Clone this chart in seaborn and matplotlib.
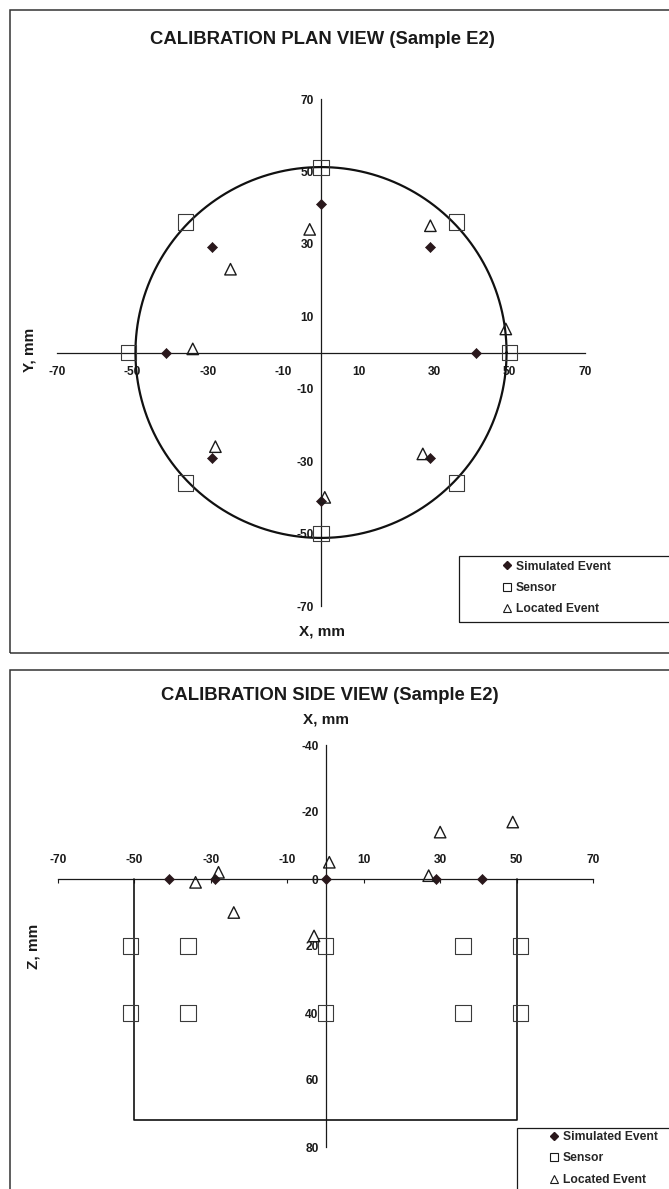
import numpy as np
import matplotlib
matplotlib.use("Agg")
import matplotlib.pyplot as plt
import seaborn as sns
from matplotlib.lines import Line2D
from matplotlib.patches import Rectangle

# ---- Plan view (X, Y in mm) ----
plan_sim_x = [0, 29, 41, 29, 0, -29, -41, -29]
plan_sim_y = [41, 29, 0, -29, -41, -29, 0, 29]
plan_sensor_x = [0, 36, 50, 36, 0, -36, -51, -36]
plan_sensor_y = [51, 36, 0, -36, -50, -36, 0, 36]
plan_loc_x = [-3, 29, 49, 27, 1, -28, -34, -24]
plan_loc_y = [34, 35, 6.5, -28, -40, -26, 1, 23]

# ---- Side view (X, Z in mm) ----
side_sim_x = [-41, -29, 0, 29, 41]
side_sim_z = [0, 0, 0, 0, 0]
side_sensor_x = [-51, -36, 0, 36, 51, -51, -36, 0, 36, 51]
side_sensor_z = [20, 20, 20, 20, 20, 40, 40, 40, 40, 40]
side_loc_x = [-34, -28, -24, -3, 1, 27, 30, 49]
side_loc_z = [1, -2, 10, 17, -5, -1, -14, -17]

x_ticks = [-70, -50, -30, -10, 10, 30, 50, 70]
plan_y_ticks = [70, 50, 30, 10, -10, -30, -50, -70]
side_z_ticks = [-40, -20, 0, 20, 40, 60, 80]
series_labels = ["Simulated Event", "Sensor", "Located Event"]

# sample outline: core cross-section half-widths and block length
core_half_x, core_half_y = 49.2, 51.2
block_x = [-50, 50]
block_len = 72

sns.set_style("white")
plt.rcParams["font.family"] = ["Liberation Sans", "DejaVu Sans"]
plt.rcParams["font.weight"] = "bold"
plt.rcParams["axes.unicode_minus"] = False

W, H = 669, 1189
fig = plt.figure(figsize=(W / 100, H / 100), dpi=100)
fig.patch.set_facecolor("white")


def px_rect(l, t, r, b):
    return [l / W, 1 - b / H, (r - l) / W, (b - t) / H]


def fx(x):
    return x / W


def fy(y):
    return 1 - y / H


ink = "#1a1a1a"
sim_color = "#2a181c"
tick_fs = 8.6
label_fs = 11
title_fs = 13.3

# panel frames
for (l, t, r, b) in [(10, 10, 720, 653), (10, 670, 720, 1260)]:
    fig.add_artist(Rectangle((fx(l), fy(b)), (r - l) / W, (b - t) / H,
                             transform=fig.transFigure, fill=False,
                             ec="#333333", lw=1.1, clip_on=False))


def style_marks(ax, sx, sy, nx, ny, lx, ly):
    sns.scatterplot(x=sx, y=sy, ax=ax, marker="D", s=26, color=sim_color,
                    edgecolor=sim_color, linewidth=0.5, legend=False, zorder=4)
    sns.scatterplot(x=nx, y=ny, ax=ax, marker="s", s=121, facecolors="none",
                    edgecolor="#3a3a3a", linewidth=0.8, legend=False, zorder=4)
    sns.scatterplot(x=lx, y=ly, ax=ax, marker="^", s=68, facecolors="none",
                    edgecolor=ink, linewidth=1.0, legend=False, zorder=4)


def cross_axes(ax, hspine):
    for side in ["top", "right", "bottom"]:
        ax.spines[side].set_visible(False)
    ax.spines["left"].set_position(("data", 0))
    ax.spines[hspine].set_visible(True)
    ax.spines[hspine].set_position(("data", 0))
    for sp in ["left", hspine]:
        ax.spines[sp].set_color(ink)
        ax.spines[sp].set_linewidth(0.9)
    ax.set_facecolor("none")
    ax.set_xlabel("")
    ax.set_ylabel("")


def add_legend(box, anchor):
    l, t = box
    fig.add_artist(Rectangle((fx(l), fy(t + 66)), (720 - l) / W, 66 / H,
                             transform=fig.transFigure, fill=False,
                             ec=ink, lw=0.9, clip_on=False))
    handles = [
        Line2D([], [], ls="none", marker="D", ms=3.8, mfc=sim_color, mec=sim_color),
        Line2D([], [], ls="none", marker="s", ms=5.2, mfc="none", mec=ink, mew=0.8),
        Line2D([], [], ls="none", marker="^", ms=5.8, mfc="none", mec=ink, mew=0.8),
    ]
    fig.legend(handles, series_labels, loc="upper left",
               bbox_to_anchor=(fx(anchor[0]), fy(anchor[1])),
               frameon=False, prop=dict(weight="bold", size=8.7),
               handlelength=0.75, handletextpad=0.4, labelspacing=0.78,
               borderpad=0, borderaxespad=0)


# ---------------- Plan view ----------------
ax1 = fig.add_axes(px_rect(57, 99, 585, 606))
t = np.linspace(0, 2 * np.pi, 400)
ax1.plot(core_half_x * np.cos(t), core_half_y * np.sin(t), color="#111111",
         lw=1.6, zorder=3)
style_marks(ax1, plan_sim_x, plan_sim_y, plan_sensor_x, plan_sensor_y,
            plan_loc_x, plan_loc_y)
ax1.set_xlim(-70, 70)
ax1.set_ylim(-70, 70)
cross_axes(ax1, "bottom")
ax1.set_xticks(x_ticks)
ax1.set_yticks(plan_y_ticks)
ax1.tick_params(axis="x", direction="in", length=3, width=0.8, pad=9.5,
                labelsize=tick_fs, colors=ink)
ax1.tick_params(axis="y", direction="out", length=3, width=0.8, pad=2,
                labelsize=tick_fs, colors=ink)

fig.text(fx(322), fy(40), "CALIBRATION PLAN VIEW (Sample E2)", ha="center",
         va="center", fontsize=title_fs, fontweight="bold", color=ink)
fig.text(fx(322), fy(631), "X, mm", ha="center", va="center", fontsize=label_fs,
         fontweight="bold", color=ink)
fig.text(fx(29), fy(350), "Y, mm", ha="center", va="center", rotation=90,
         fontsize=label_fs, fontweight="bold", color=ink)
add_legend((459, 556), (502, 560.5))

# ---------------- Side view ----------------
ax2 = fig.add_axes(px_rect(58, 745, 593, 1147))
ax2.plot([block_x[0], block_x[0], block_x[1], block_x[1]],
         [0, block_len, block_len, 0], color="#111111", lw=1.2, zorder=3)
style_marks(ax2, side_sim_x, side_sim_z, side_sensor_x, side_sensor_z,
            side_loc_x, side_loc_z)
ax2.set_xlim(-70, 70)
ax2.set_ylim(80, -40)
cross_axes(ax2, "top")
ax2.xaxis.set_ticks_position("top")
ax2.set_xticks(x_ticks)
ax2.set_yticks(side_z_ticks)
ax2.tick_params(axis="x", direction="in", length=3, width=0.8, pad=9.5,
                labelsize=tick_fs, colors=ink, top=True, bottom=False,
                labeltop=True, labelbottom=False)
ax2.tick_params(axis="y", direction="out", length=3, width=0.8, pad=2,
                labelsize=tick_fs, colors=ink)

fig.text(fx(330), fy(696), "CALIBRATION SIDE VIEW (Sample E2)", ha="center",
         va="center", fontsize=title_fs, fontweight="bold", color=ink)
fig.text(fx(326), fy(719), "X, mm", ha="center", va="center", fontsize=label_fs,
         fontweight="bold", color=ink)
fig.text(fx(34), fy(946), "Z, mm", ha="center", va="center", rotation=90,
         fontsize=label_fs, fontweight="bold", color=ink)
add_legend((517, 1128), (549, 1131))

fig.savefig("out.png", dpi=100, facecolor="white")
